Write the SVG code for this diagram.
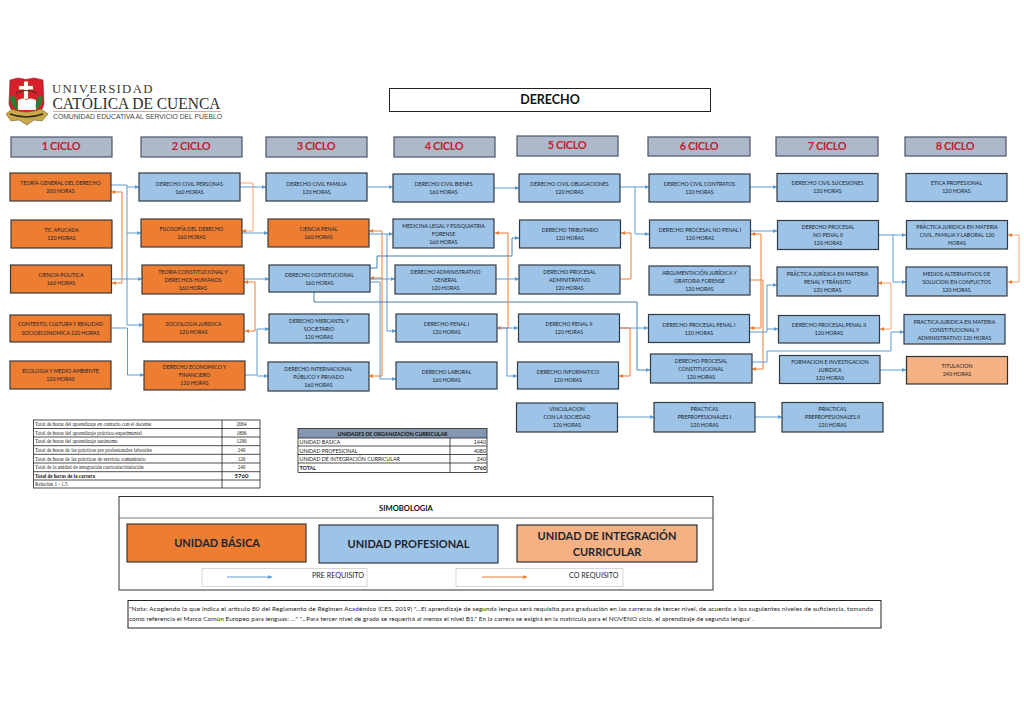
<svg xmlns="http://www.w3.org/2000/svg" width="1024" height="724" viewBox="0 0 1024 724">
<style>
text{font-family:"Lato","Liberation Sans",sans-serif;fill:#14202c}
.n{font-size:5.25px;text-anchor:middle}
.o{fill:#ED7D31;stroke:#3a3a3a;stroke-width:1.2}
.b{fill:#9DC3E6;stroke:#2f3a45;stroke-width:1.2}
.p{fill:#F4B183;stroke:#2f2f2f;stroke-width:1.2}
.h{fill:#ADB9CA;stroke:#4a5568;stroke-width:1.2}
.c{font-size:11px;font-weight:700;letter-spacing:-.35px;text-anchor:middle;fill:#C5202E}
.pre{fill:none;stroke:#5B9BD5;stroke-width:1;marker-end:url(#ab)}
.co{fill:none;stroke:#ED7D31;stroke-width:1;marker-end:url(#ao)}
.cs{marker-start:url(#aos)}
.t{font-family:"Liberation Serif",serif;font-size:5.1px;fill:#222}
.u{font-size:5.3px;fill:#222}
.g{fill:none;stroke:#222;stroke-width:.8}
.s{font-size:11px;font-weight:700;text-anchor:middle;fill:#1c2530}
</style>
<defs>
<marker id="ab" markerWidth="5" markerHeight="5" refX="4" refY="2" orient="auto" markerUnits="userSpaceOnUse"><path d="M0,0L4,2L0,4z" fill="#5B9BD5"/></marker>
<marker id="ao" markerWidth="5" markerHeight="5" refX="4" refY="2" orient="auto" markerUnits="userSpaceOnUse"><path d="M0,0L4,2L0,4z" fill="#ED7D31"/></marker>
<marker id="aos" markerWidth="5" markerHeight="5" refX="0" refY="2" orient="auto" markerUnits="userSpaceOnUse"><path d="M4,0L0,2L4,4z" fill="#ED7D31"/></marker>
</defs>
<rect width="1024" height="724" fill="#fff"/>

<g id="logo">
<path d="M10,80L18,78L26,79.500L34,78L43,80L44,104Q42,114 27,120Q11,114 9,104Z" fill="#D6202C" stroke="#8a1a20" stroke-width=".6"/>
<path d="M24,81.500H28V86H33V89.500H28V99H24V89.500H19V86H24Z" fill="#fff" stroke="#c9a94a" stroke-width=".3"/>
<path d="M16,93Q26,88 37,93" fill="none" stroke="#3a2a20" stroke-width="1"/>
<path d="M18,100Q23,97 26.500,100Q30,97 36,100V110H18Z" fill="#fff" stroke="#b89a55" stroke-width=".3"/>
<path d="M10,97Q13,95 15,97Q18,103 17,109Q11,107 10,97Z" fill="#2E7D32"/>
<path d="M43,97Q40,95 38,97Q35,103 36,109Q42,107 43,97Z" fill="#2E7D32"/>
<path d="M6,114L12,109Q26,115 41,109L48,114L42,121L34,120L27,125L19,120L11,121Z" fill="#c9a94a" stroke="#5a4a18" stroke-width=".5"/>
<path d="M10,114Q26,120 43,114" fill="none" stroke="#2a2a20" stroke-width="1.6"/>
</g>
<g id="logo-text">
<text x="52" y="93" style="font-family:'Liberation Serif',serif;font-size:12.8px;letter-spacing:1.3px;fill:#3a3a3a">UNIVERSIDAD</text>
<text x="52.500" y="109" textLength="168" lengthAdjust="spacingAndGlyphs" style="font-family:'Liberation Serif',serif;font-size:16.5px;fill:#2f2f2f">CATÓLICA DE CUENCA</text>
<rect x="53" y="111" width="168" height="1" fill="#E3A5A8"/>
<text x="53" y="119" textLength="169" lengthAdjust="spacingAndGlyphs" style="font-family:'Liberation Sans',sans-serif;font-size:6.5px;fill:#444">COMUNIDAD EDUCATIVA AL SERVICIO DEL PUEBLO</text>
</g>

<g id="title"><rect x="389.500" y="88.500" width="321" height="23" fill="#fff" stroke="#222" stroke-width="1"/><text x="550" y="104" style="font-size:12.5px;font-weight:700;text-anchor:middle;fill:#111">DERECHO</text></g>

<g id="ciclo1"><rect class="h" x="11" y="137" width="101" height="20"/><text class="c" x="61" y="150">1 CICLO</text></g>
<g id="ciclo2"><rect class="h" x="141" y="137" width="101" height="20"/><text class="c" x="191" y="150">2 CICLO</text></g>
<g id="ciclo3"><rect class="h" x="266" y="137" width="101" height="20"/><text class="c" x="316" y="150">3 CICLO</text></g>
<g id="ciclo4"><rect class="h" x="394" y="137" width="101" height="20"/><text class="c" x="444" y="150">4 CICLO</text></g>
<g id="ciclo5"><rect class="h" x="517" y="136" width="101" height="20"/><text class="c" x="567" y="149">5 CICLO</text></g>
<g id="ciclo6"><rect class="h" x="648" y="137" width="102" height="19"/><text class="c" x="699" y="150">6 CICLO</text></g>
<g id="ciclo7"><rect class="h" x="776" y="137" width="102" height="19"/><text class="c" x="827" y="150">7 CICLO</text></g>
<g id="ciclo8"><rect class="h" x="905" y="137" width="101" height="19"/><text class="c" x="955" y="150">8 CICLO</text></g>

<g id="connectors">
<path class="pre" d="M111,185H127V187H139"/>
<path class="pre" d="M127,187V233H141"/>
<path class="pre" d="M127,233V325H143"/>
<path class="co cs" d="M111,192H122V283H112"/>
<path class="pre" d="M112,279H142"/>
<path class="pre" d="M111,328H127.500V375H144"/>
<path class="pre" d="M240,187H266"/>
<path class="co" style="stroke:#F4A070" d="M240,183H253V231H242"/>
<path class="pre" d="M242,233H268"/>
<path class="pre" d="M244,279H269"/>
<path class="co cs" d="M244,282H255V331H245"/>
<path class="pre" d="M245,375H257V329H269"/>
<path class="pre" d="M257,376H268"/>
<path class="pre" d="M367,187H393"/>
<path class="co cs" d="M369,231H382V376H369"/>
<path class="co" d="M382,278H370"/>
<path class="pre" d="M369,234H393"/>
<path class="pre" d="M387,234V331H396"/>
<path class="pre" d="M370,282H380V379H396"/>
<path class="pre" d="M370,279H395"/>
<path class="pre" style="stroke:#4A7FAE" d="M370,268H377V256H512V238H519"/>
<path class="pre" style="stroke:#4A7FAE" d="M314,292V302H637V370H650"/>
<path class="pre" d="M494,188H519"/>
<path class="pre" d="M620,187H649"/>
<path class="pre" d="M635,187V234H649"/>
<path class="co cs" d="M495,233H508V328H497"/>
<path class="pre" d="M497,328H518"/>
<path class="pre" d="M507,328V376H517"/>
<path class="co cs" style="marker-end:none" d="M621,233H631V279H620"/>
<path class="pre" d="M496,279H519"/>
<path class="pre" d="M620,328H648"/>
<path class="co" d="M620,328H630V376H619"/>
<path class="pre" d="M618,417H654"/>
<path class="pre" d="M755,417H782"/>
<path class="pre" d="M750,187H777"/>
<path class="pre" d="M750,231H777"/>
<path class="co cs" d="M751,234H761V328H750"/>
<path class="co" d="M750,280H763V369H752"/>
<path class="pre" d="M750,332H767V285H777"/>
<path class="pre" d="M767,329H778"/>
<path class="pre" d="M878,235H906"/>
<path class="pre" d="M893,235V282H906"/>
<path class="co cs" style="stroke:#F4A070" d="M878,283H891V329H880"/>
<path class="co cs" style="stroke:#F4A070" d="M1008,235H1019V282H1008"/>
<path class="pre" d="M752,362H767V351H891V332H904"/>
<path class="pre" d="M880,370H906"/>
</g>

<g id="n1"><rect class="o" x="10" y="173" width="101" height="28"/><text class="n" x="60.500" y="184.700">TEORÍA GENERAL DEL DERECHO<tspan x="60.500" dy="8.400">200 HORAS</tspan></text></g>
<g id="n2"><rect class="o" x="11" y="220" width="101" height="28"/><text class="n" x="61.500" y="231.700">TIC APLICADA<tspan x="61.500" dy="8.400">120 HORAS</tspan></text></g>
<g id="n3"><rect class="o" x="10.500" y="265" width="101" height="28"/><text class="n" x="61" y="276.700">CIENCIA POLITICA<tspan x="61" dy="8.400">160 HORAS</tspan></text></g>
<g id="n4"><rect class="o" x="10" y="315" width="101" height="27"/><text class="n" x="60.500" y="326.200">CONTEXTO, CULTURA Y REALIDAD<tspan x="60.500" dy="8.400">SOCIOECONOMICA 120 HORAS</tspan></text></g>
<g id="n5"><rect class="o" x="10" y="361" width="101" height="28"/><text class="n" x="60.500" y="373">ECOLOGIA Y MEDIO AMBIENTE<tspan x="60.500" dy="8.400">120 HORAS</tspan></text></g>

<g id="n6"><rect class="b" x="139" y="173" width="101" height="28"/><text class="n" x="189.500" y="185.500">DERECHO CIVIL PERSONAS<tspan x="189.500" dy="8.200">160 HORAS</tspan></text></g>
<g id="n7"><rect class="o" x="141" y="219" width="101" height="28"/><text class="n" x="191.500" y="230.800">FILOSOFÍA DEL DERECHO<tspan x="191.500" dy="8.400">160 HORAS</tspan></text></g>
<g id="n8"><rect class="o" x="142" y="265" width="102" height="29"/><text class="n" x="193" y="273.600">TEORIA CONSTITUCIONAL Y<tspan x="193" dy="8">DERECHOS HUMANOS</tspan><tspan x="193" dy="8">160 HORAS</tspan></text></g>
<g id="n9"><rect class="o" x="143" y="314" width="101" height="28"/><text class="n" x="193.500" y="326">SOCIOLOGIA JURIDICA<tspan x="193.500" dy="8.200">120 HORAS</tspan></text></g>
<g id="n10"><rect class="o" x="144" y="361" width="101" height="29"/><text class="n" x="194.500" y="369.400">DERECHO ECONOMICO Y<tspan x="194.500" dy="8">FINANCIERO</tspan><tspan x="194.500" dy="8">120 HORAS</tspan></text></g>

<g id="n11"><rect class="b" x="266" y="173" width="101" height="28"/><text class="n" x="316.500" y="185.500">DERECHO CIVIL FAMILIA<tspan x="316.500" dy="8.200">120 HORAS</tspan></text></g>
<g id="n12"><rect class="o" x="268" y="219" width="101" height="28"/><text class="n" x="318.500" y="231">CIENCIA PENAL<tspan x="318.500" dy="8.200">160 HORAS</tspan></text></g>
<g id="n13"><rect class="b" x="269" y="265" width="101" height="27"/><text class="n" x="319.500" y="276.800">DERECHO CONTITUCIONAL<tspan x="319.500" dy="8.200">160 HORAS</tspan></text></g>
<g id="n14"><rect class="b" x="269" y="314" width="100" height="29"/><text class="n" x="319" y="322.700">DERECHO MERCANTIL Y<tspan x="319" dy="8">SOCIETARIO</tspan><tspan x="319" dy="8">120 HORAS</tspan></text></g>
<g id="n15"><rect class="b" x="268" y="362" width="101" height="29"/><text class="n" x="318.500" y="370.600">DERECHO INTERNACIONAL<tspan x="318.500" dy="8">PÚBLICO Y PRIVADO</tspan><tspan x="318.500" dy="8">160 HORAS</tspan></text></g>

<g id="n16"><rect class="b" x="393" y="174" width="101" height="28"/><text class="n" x="443.500" y="185.600">DERECHO CIVIL BIENES<tspan x="443.500" dy="8">160 HORAS</tspan></text></g>
<g id="n17"><rect class="b" x="393" y="219" width="101" height="29"/><text class="n" x="443.500" y="227.800">MEDICINA LEGAL Y PSISQUIATRIA<tspan x="443.500" dy="8">FORENSE</tspan><tspan x="443.500" dy="8">160 HORAS</tspan></text></g>
<g id="n18"><rect class="b" x="395" y="265" width="101" height="29"/><text class="n" x="445.500" y="273.600">DERECHO ADMINISTRATIVO<tspan x="445.500" dy="8">GENERAL</tspan><tspan x="445.500" dy="8">120 HORAS</tspan></text></g>
<g id="n19"><rect class="b" x="396" y="314" width="101" height="28"/><text class="n" x="446.500" y="326">DERECHO PENAL I<tspan x="446.500" dy="8">120 HORAS</tspan></text></g>
<g id="n20"><rect class="b" x="396" y="362" width="101" height="27"/><text class="n" x="446.500" y="373.500">DERECHO LABORAL<tspan x="446.500" dy="8">160 HORAS</tspan></text></g>

<g id="n21"><rect class="b" x="519" y="174" width="101" height="28"/><text class="n" x="569.500" y="185.600">DERECHO CIVIL OBLIGACIONES<tspan x="569.500" dy="8">120 HORAS</tspan></text></g>
<g id="n22"><rect class="b" x="519.500" y="220" width="101" height="28"/><text class="n" x="570" y="232">DERECHO TRIBUTARIO<tspan x="570" dy="8">120 HORAS</tspan></text></g>
<g id="n23"><rect class="b" x="519" y="265" width="101" height="29"/><text class="n" x="569.500" y="273.800">DERECHO PROCESAL<tspan x="569.500" dy="8">ADMINITRATIVO</tspan><tspan x="569.500" dy="8">120 HORAS</tspan></text></g>
<g id="n24"><rect class="b" x="518.500" y="314" width="101" height="28"/><text class="n" x="569" y="326">DERECHO PENAL II<tspan x="569" dy="8">120 HORAS</tspan></text></g>
<g id="n25"><rect class="b" x="517.500" y="362" width="101" height="27"/><text class="n" x="568" y="373.500">DERECHO INFORMATICO<tspan x="568" dy="8">120 HORAS</tspan></text></g>
<g id="n26"><rect class="b" x="516.500" y="403" width="101" height="29"/><text class="n" x="567" y="411.400">VINCULACION<tspan x="567" dy="8">CON LA SOCIEDAD</tspan><tspan x="567" dy="8">120 HORAS</tspan></text></g>

<g id="n27"><rect class="b" x="649" y="174" width="101" height="28"/><text class="n" x="699.500" y="185.600">DERECHO CIVIL CONTRATOS<tspan x="699.500" dy="8">120 HORAS</tspan></text></g>
<g id="n28"><rect class="b" x="649.500" y="220" width="101" height="28"/><text class="n" x="700" y="232">DERECHO PROCESAL NO PENAL I<tspan x="700" dy="8">120 HORAS</tspan></text></g>
<g id="n29"><rect class="b" x="649" y="266" width="101" height="29"/><text class="n" x="699.500" y="274.800">ARGUMENTACIÓN JURÍDICA Y<tspan x="699.500" dy="8">ORATORIA FORENSE</tspan><tspan x="699.500" dy="8">120 HORAS</tspan></text></g>
<g id="n30"><rect class="b" x="648.500" y="314.500" width="101" height="28"/><text class="n" x="699" y="326.500">DERECHO PROCESAL PENAL I<tspan x="699" dy="8">120 HORAS</tspan></text></g>
<g id="n31"><rect class="b" x="650.500" y="354" width="101.500" height="29"/><text class="n" x="701" y="362.800">DERECHO PROCESAL<tspan x="701" dy="8">CONSTITUCIONAL</tspan><tspan x="701" dy="8">120 HORAS</tspan></text></g>
<g id="n32"><rect class="b" x="654" y="402.500" width="101" height="29.500"/><text class="n" x="704.500" y="411.400">PRACTICAS<tspan x="704.500" dy="8">PREPROFESIONALES I</tspan><tspan x="704.500" dy="8">120 HORAS</tspan></text></g>

<g id="n33"><rect class="b" x="777" y="173.500" width="101" height="28"/><text class="n" x="827.500" y="185.400">DERECHO CIVIL SUCESIONES<tspan x="827.500" dy="8">120 HORAS</tspan></text></g>
<g id="n34"><rect class="b" x="777.500" y="220.500" width="101" height="29"/><text class="n" x="828" y="229">DERECHO PROCESAL<tspan x="828" dy="8">NO PENAL II</tspan><tspan x="828" dy="8">120 HORAS</tspan></text></g>
<g id="n35"><rect class="b" x="777" y="267" width="101" height="29"/><text class="n" x="827.500" y="275.700">PRÁCTICA JURÍDICA EN MATERIA<tspan x="827.500" dy="8">PENAL Y TRÁNSITO</tspan><tspan x="827.500" dy="8">120 HORAS</tspan></text></g>
<g id="n36"><rect class="b" x="778.500" y="315.500" width="101" height="27.500"/><text class="n" x="829" y="327">DERECHO PROCESAL PENAL II<tspan x="829" dy="8">120 HORAS</tspan></text></g>
<g id="n37"><rect class="b" x="779.500" y="355.500" width="100.500" height="28"/><text class="n" x="830" y="363.800">FORMACION E INVESTIGACION<tspan x="830" dy="8">JURIDICA</tspan><tspan x="830" dy="8">120 HORAS</tspan></text></g>
<g id="n38"><rect class="b" x="782" y="402.500" width="101" height="29.500"/><text class="n" x="832.500" y="411.400">PRACTICAS<tspan x="832.500" dy="8">PREPROFESIONALES  II</tspan><tspan x="832.500" dy="8">120 HORAS</tspan></text></g>

<g id="n39"><rect class="b" x="906" y="173.500" width="101" height="28"/><text class="n" x="956.500" y="185.400">ETICA PROFESIONAL<tspan x="956.500" dy="8">120 HORAS</tspan></text></g>
<g id="n40"><rect class="b" x="906.500" y="220.500" width="101" height="28.500"/><text class="n" x="957" y="229">PRÁCTICA JURIDICA EN MATERIA<tspan x="957" dy="8">CIVIL, FAMILIA Y LABORAL 120</tspan><tspan x="957" dy="8">HORAS</tspan></text></g>
<g id="n41"><rect class="b" x="906" y="267" width="101" height="29"/><text class="n" x="956.500" y="275.700">MEDIOS ALTERNATIVOS DE<tspan x="956.500" dy="8">SOLUCION EN CONFLICTOS</tspan><tspan x="956.500" dy="8">120 HORAS</tspan></text></g>
<g id="n42"><rect class="b" x="904" y="314.500" width="101" height="29.500"/><text class="n" x="954.500" y="323.700">PRACTICA JURIDICA EN MATERIA<tspan x="954.500" dy="8">CONSTITUCIONAL Y</tspan><tspan x="954.500" dy="8">ADMINISTRATIVO 120 HORAS</tspan></text></g>
<g id="n43"><rect class="p" x="906.500" y="356.500" width="101" height="27.500"/><text class="n" x="957" y="368.300">TITULACION<tspan x="957" dy="8">240 HORAS</tspan></text></g>

<g id="tabla-horas">
<rect class="g" x="33.500" y="420" width="226.500" height="68"/>
<path class="g" d="M33.500,428.500H260M33.500,437H260M33.500,445.700H260M33.500,454.300H260M33.500,463H260M33.500,471.700H260M33.500,480H260M222,420V488"/>
<text class="t" x="35" y="426">Total de horas del aprendizaje en contacto con el docente</text>
<text class="t" x="35" y="434.700">Total de horas del aprendizaje práctico-experimental</text>
<text class="t" x="35" y="443.300">Total de horas del aprendizaje autónomo</text>
<text class="t" x="35" y="452">Total de horas de las prácticas pre profesionales laborales</text>
<text class="t" x="35" y="460.700">Total de horas de las prácticas de servicio comunitario</text>
<text class="t" x="35" y="469.300">Total de la unidad de integración curricular/titulación</text>
<text class="t" x="35" y="477.700" style="font-weight:700">Total de horas de la carrera</text>
<text class="t" x="35" y="486.300">Relación 1 - 1.5</text>
<g style="text-anchor:middle">
<text class="t" x="241.500" y="426">2064</text>
<text class="t" x="241.500" y="434.700">1806</text>
<text class="t" x="241.500" y="443.300">1290</text>
<text class="t" x="241.500" y="452">240</text>
<text class="t" x="241.500" y="460.700">120</text>
<text class="t" x="241.500" y="469.300">240</text>
<text x="241.500" y="478" style="font-size:6px;font-weight:700;fill:#222">5760</text>
</g>
</g>

<g id="tabla-unidades">
<rect x="298" y="428.500" width="189" height="9.500" fill="#8497B0"/>
<rect class="g" x="298" y="428.500" width="189" height="44"/>
<path class="g" d="M298,438H487M298,446H487M298,454.500H487M298,463H487M450,438V472.500"/>
<text x="392.500" y="435.500" style="font-size:5.200px;font-weight:700;text-anchor:middle;fill:#111">UNIDADES DE ORGANIZACIÓN CURRICULAR</text>
<text class="u" x="299.500" y="444">UNIDAD BASICA</text><text class="u" x="486" y="444" text-anchor="end">1440</text>
<text class="u" x="299.500" y="452.500">UNIDAD PROFESIONAL</text><text class="u" x="486" y="452.500" text-anchor="end">4080</text>
<text class="u" x="299.500" y="461">UNIDAD DE INTEGRACIÓN CURRICULAR</text><text class="u" x="486" y="461" text-anchor="end">240</text>
<text class="u" x="299.500" y="470" font-weight="700">TOTAL</text><text class="u" x="486" y="470" text-anchor="end" font-weight="700">5760</text>
</g>

<g id="simbologia">
<rect x="119" y="496.500" width="594" height="93.500" fill="#fff" stroke="#333" stroke-width="1"/>
<path d="M119,518H713" stroke="#555" stroke-width=".8"/>
<text x="406" y="511" style="font-size:7.600px;font-weight:700;text-anchor:middle;fill:#111">SIMOBOLOGIA</text>
<rect class="o" x="127" y="524" width="179" height="38"/><text class="s" x="217" y="547">UNIDAD BÁSICA</text>
<rect class="b" x="319" y="525" width="179" height="38"/><text class="s" x="408.500" y="548">UNIDAD PROFESIONAL</text>
<rect class="p" x="517" y="525" width="180" height="37"/><text class="s" x="607" y="540">UNIDAD DE INTEGRACIÓN</text><text class="s" x="607" y="556">CURRICULAR</text>
<rect x="202" y="568.500" width="165" height="18" fill="#fff" stroke="#ccc" stroke-width=".8"/>
<rect x="456" y="568.500" width="167" height="18" fill="#fff" stroke="#ccc" stroke-width=".8"/>
<path class="pre" d="M227,577H272"/>
<path class="co" d="M482,577H527"/>
<text x="312" y="578" style="font-size:7.200px;fill:#222">PRE REQUISITO</text>
<text x="569" y="578" style="font-size:7.200px;fill:#222">CO REQUISITO</text>
</g>

<g id="nota">
<rect x="128" y="600.500" width="753" height="27.500" fill="#fff" stroke="#222" stroke-width="1"/>
<text x="129" y="610.500" textLength="744" lengthAdjust="spacing" style="font-size:6.400px;fill:#222">"Nota: Acogiendo lo que indica el artículo 80 del Reglamento de Régimen Académico (CES, 2019) "…El aprendizaje de segunda lengua será requisito para graduación en las carreras de tercer nivel, de acuerdo a los suguientes niveles de suficiencia, tomando</text>
<text x="129" y="621" textLength="625" lengthAdjust="spacing" style="font-size:6.400px;fill:#222">como referencia el Marco Común Europeo para lenguas: …" "…Para tercer nivel de grado se requerirá al menos el nivel B1." En la carrera se exigirá en la matrícula para el NOVENO ciclo, el aprendizaje de segunda lengua' .</text>
</g>
</svg>
